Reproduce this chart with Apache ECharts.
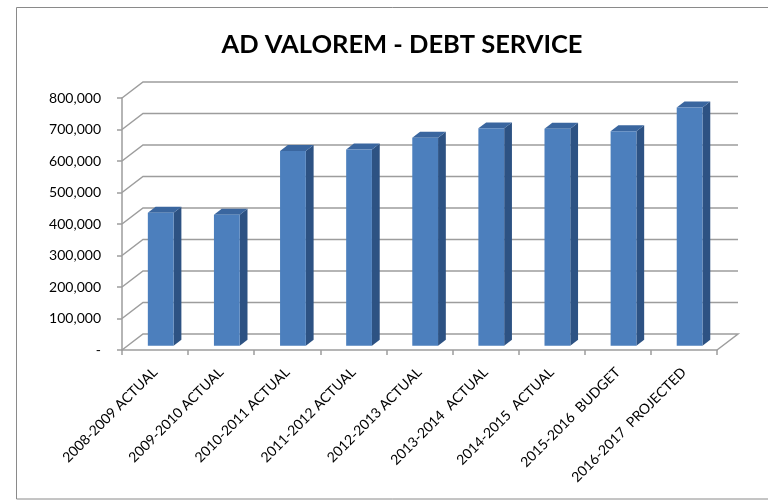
<!DOCTYPE html>
<html>
<head>
<meta charset="utf-8">
<script src="https://cdn.jsdelivr.net/npm/echarts@6/dist/echarts.min.js"></script>
<style>
html,body{margin:0;padding:0;background:#fff;}
#chart{width:768px;height:501px;}
</style>
</head>
<body>
<div id="chart"></div>
<script>
const titleText = 'AD VALOREM - DEBT SERVICE';
const categories = [
  '2008-2009 ACTUAL',
  '2009-2010 ACTUAL',
  '2010-2011 ACTUAL',
  '2011-2012 ACTUAL',
  '2012-2013 ACTUAL',
  '2013-2014  ACTUAL',
  '2014-2015  ACTUAL',
  '2015-2016  BUDGET',
  '2016-2017  PROJECTED'
];
const values = [422000, 416000, 618000, 623000, 660000, 690000, 689000, 681000, 756000];
const yTicks = [0, 100000, 200000, 300000, 400000, 500000, 600000, 700000, 800000];
const yTickLabels = ['-', '100,000', '200,000', '300,000', '400,000', '500,000', '600,000', '700,000', '800,000'];

// 3D styling constants (pixels / fractions)
const DX = 21, DY = -16;
const D0 = 0.27, D1 = 0.64;
const BAR_RATIO = 0.39;
const GRID_COLOR = '#9d9d9d';

const chart = echarts.init(document.getElementById('chart'));

function wallItem(params, api) {
  const cs = params.coordSys;
  const v = api.value(1);
  const y = api.coord([0, v])[1];
  const x0 = cs.x, x1 = cs.x + cs.width;
  const pts = [[x0, y], [x0 + DX, y + DY], [x1 + DX, y + DY]];
  if (v === 0) pts.push([x1, y]);
  return {
    type: 'polyline',
    shape: { points: pts },
    style: { stroke: GRID_COLOR, lineWidth: 1.5, fill: null }
  };
}

function barItem(params, api) {
  const i = api.value(0), v = api.value(1);
  const b = api.coord([i, 0]);
  const t = api.coord([i, v]);
  const w = api.size([1, 0])[0] * BAR_RATIO;
  const x0 = b[0] - w / 2 + DX * D0;
  const yb = b[1] + DY * D0;
  const yt = t[1] + DY * D0;
  const ddx = DX * (D1 - D0), ddy = DY * (D1 - D0);
  return {
    type: 'group',
    children: [
      { type: 'polygon', shape: { points: [[x0 + w, yt], [x0 + w + ddx, yt + ddy], [x0 + w + ddx, yb + ddy], [x0 + w, yb]] },
        style: { fill: '#2d5283' } },
      { type: 'polygon', shape: { points: [[x0, yt], [x0 + ddx, yt + ddy], [x0 + w + ddx, yt + ddy], [x0 + w, yt]] },
        style: { fill: '#3a669f' } },
      { type: 'rect', shape: { x: x0, y: yt, width: w, height: yb - yt },
        style: { fill: '#4c7fbd' } }
    ]
  };
}

chart.setOption({
  backgroundColor: '#ffffff',
  animation: false,
  title: {
    text: titleText,
    left: 397, top: 27, textAlign: 'center',
    textStyle: { fontFamily: 'Lato', fontWeight: 'bold', fontSize: 25.5, color: '#000' }
  },
  graphic: [{
    type: 'rect', shape: { x: 16.5, y: 7.5, width: 780, height: 491.5 },
    style: { fill: null, stroke: '#8a8a8a', lineWidth: 1 }, silent: true, z: 0
  }],
  grid: { left: 122, right: 51, top: 98, bottom: 151 },
  xAxis: {
    type: 'category',
    data: categories,
    boundaryGap: true,
    axisLine: { show: true, lineStyle: { color: GRID_COLOR, width: 1.5 } },
    axisTick: { show: true, length: 5, lineStyle: { color: GRID_COLOR, width: 1.5 } },
    axisLabel: { rotate: 45, margin: 20, fontFamily: 'Lato', fontSize: 14, color: '#000', interval: 0 },
    splitLine: { show: false }
  },
  yAxis: {
    type: 'value',
    min: 0, max: 800000, interval: 100000,
    axisLine: { show: true, lineStyle: { color: GRID_COLOR, width: 1.5 } },
    axisTick: { show: true, length: 5, lineStyle: { color: GRID_COLOR, width: 1.5 } },
    axisLabel: {
      margin: 21, fontFamily: 'Lato', fontSize: 14, color: '#000',
      formatter: function (v) { const k = yTicks.indexOf(v); return k >= 0 ? yTickLabels[k] : ''; }
    },
    splitLine: { show: false }
  },
  series: [
    {
      type: 'custom', name: 'walls', z: 1, silent: true,
      renderItem: wallItem,
      data: yTicks.map(v => [0, v])
    },
    {
      type: 'custom', name: 'Debt Service', z: 3,
      renderItem: barItem,
      data: values.map((v, i) => [i, v])
    }
  ]
});
</script>
</body>
</html>
